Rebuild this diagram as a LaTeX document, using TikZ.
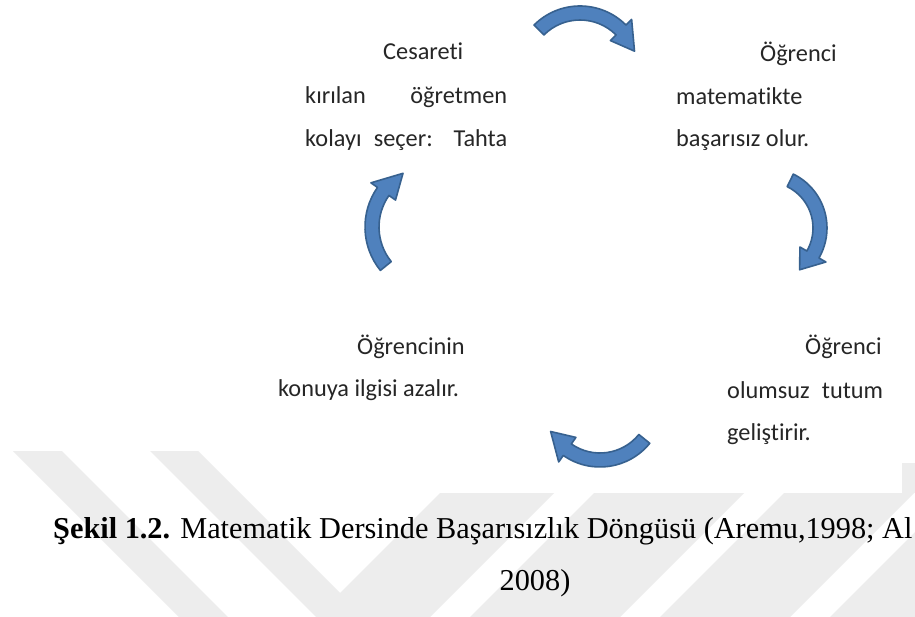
\documentclass[tikz,border=0pt]{standalone}
\usepackage{fontspec}
\setmainfont{Carlito}[Ligatures={NoCommon}]
\newfontfamily\capfont{Liberation Serif}
\usetikzlibrary{calc}
\definecolor{arrowblue}{HTML}{4F81BD}
\definecolor{arrowedge}{HTML}{37618F}
\definecolor{wmgray}{HTML}{EDEDED}
\tikzset{
  bluearrow/.style={fill=arrowblue, draw=arrowedge, line width=1.6pt, line join=round},
  txt/.style={inner sep=0pt, anchor=base west, font=\fontsize{24.3}{29}\selectfont, text=black!85},
  captxt/.style={inner sep=0pt, font=\capfont\fontsize{30.3}{36}\selectfont, text=black},
  wm/.style={fill=wmgray, draw=none}
}
\newcommand{\cyclearrow}[6]{%
  \draw[bluearrow] ($(#1,#2)+({#4}:{#3+7})$) arc[start angle=#4, end angle=#5, radius=#3+7]
    -- ($(#1,#2)+({#5}:{#3+15})$) -- ($(#1,#2)+({#6}:{#3})$) -- ($(#1,#2)+({#5}:{#3-15})$)
    -- ($(#1,#2)+({#5}:{#3-7})$) arc[start angle=#5, end angle=#4, radius=#3-7] -- cycle;}
\begin{document}
\begin{tikzpicture}[x=1pt,y=-1pt]
\useasboundingbox (0,0) rectangle (915,617);
\clip (0,0) rectangle (915,617);
\fill[white] (0,0) rectangle (915,617);
% watermark (left part)
\fill[wm] (13,451) -- (62,451) -- (228,617) -- (179,617) -- cycle;
\fill[wm] (150,451) -- (198,451) -- (364,617) -- (316,617) -- cycle;
% watermark (right part, below the diagram)
\begin{scope}
  \clip (250,493) rectangle (915,617);
  \fill[wm] (316,617) -- (430,617) -- (554,493) -- (440,493) -- cycle;
  \fill[wm] (470,617) -- (620,617) -- (744,493) -- (594,493) -- cycle;
  \fill[wm] (660,617) -- (790,617) -- (914,493) -- (784,493) -- cycle;
  \fill[wm] (830,617) -- (960,617) -- (1084,493) -- (954,493) -- cycle;
\end{scope}
\fill[wm] (902,463) rectangle (915,493);
% arrows
\cyclearrow{580}{71}{58}{-135}{-45}{-20}
\cyclearrow{767}{228}{53}{-64}{30}{52}
\cyclearrow{600}{403}{57}{39}{125}{150}
\cyclearrow{434}{227}{62}{141}{215}{240}
% texts
\node[txt] (tl1) at (383,60) {Cesareti};
\node[txt] (tl2) at (305,104) {\makebox[202pt][s]{kırılan\hfill öğretmen}};
\node[txt] (tl3) at (305,147) {\makebox[202pt][s]{kolayı seçer: Tahta}};
\node[txt] (tr1) at (760,62) {Öğrenci};
\node[txt] (tr2) at (676,105) {matematikte};
\node[txt] (tr3) at (676,147) {başarısız olur.};
\node[txt] (bl1) at (357,354) {Öğrencinin};
\node[txt] (bl2) at (278,396) {konuya ilgisi azalır.};
\node[txt] (br1) at (805,354) {Öğrenci};
\node[txt] (br2) at (727,398) {\makebox[156pt][s]{olumsuz\hfill tutum}};
\node[txt] (br3) at (727,440) {geliştirir.};
% caption
\node[captxt, anchor=base west] (cap1) at (53,538) {\textbf{Şekil 1.2.} Matematik Dersinde Başarısızlık Döngüsü (Aremu,1998; Al};
\node[captxt, anchor=base] (cap2) at (535,590) {2008)};
\end{tikzpicture}
\end{document}
